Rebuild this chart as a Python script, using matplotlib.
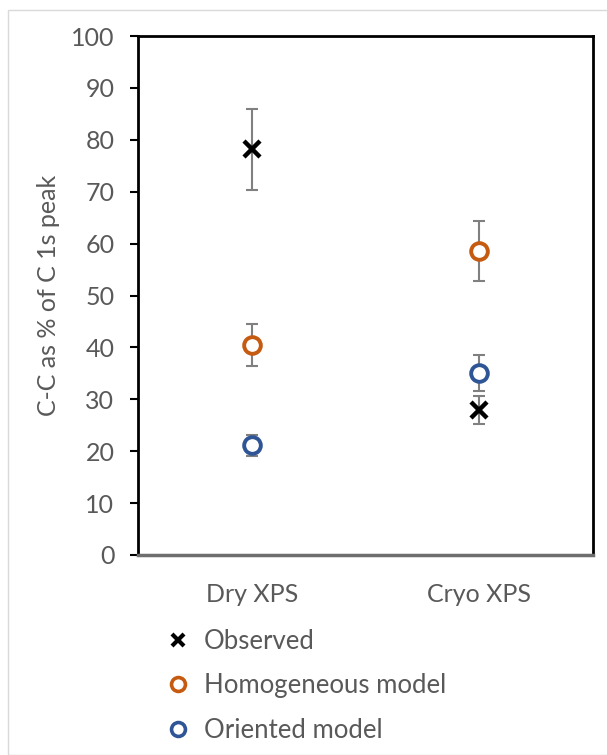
import matplotlib
matplotlib.use("Agg")
import matplotlib.pyplot as plt
from matplotlib.patches import Rectangle
from matplotlib.lines import Line2D

plt.rcParams['font.family'] = ['Lato', 'DejaVu Sans']

categories = ["Dry XPS", "Cryo XPS"]
observed = [78.2, 27.9]
observed_err = [7.8, 2.7]
homogeneous = [40.5, 58.6]
homogeneous_err = [4.0, 5.8]
oriented = [21.1, 35.1]
oriented_err = [2.1, 3.5]
yticks = [0, 10, 20, 30, 40, 50, 60, 70, 80, 90, 100]

txt = '#595959'
c_obs = '#000000'
c_hom = '#C55A11'
c_ori = '#2F5597'
c_err = '#808080'

W, H = 607, 755
fig = plt.figure(figsize=(W / 100, H / 100), dpi=100)
fig.patches.append(Rectangle((8 / W, 0), 1, 1 - 10 / H, transform=fig.transFigure,
                             fill=False, edgecolor='#D9D9D9', linewidth=1))

ax = fig.add_axes([138 / W, 1 - 555 / H, (593 - 138) / W, (555 - 36) / H])
x = [0.5, 1.5]

ebkw = dict(ecolor=c_err, elinewidth=1.5, capsize=4.5, capthick=1.5, linestyle='none', zorder=2)
ax.errorbar(x, observed, yerr=observed_err, **ebkw)
ax.errorbar(x, homogeneous, yerr=homogeneous_err, **ebkw)
ax.errorbar(x, oriented, yerr=oriented_err, **ebkw)

ax.plot(x, observed, linestyle='none', marker='x', markersize=11, markeredgewidth=3.2,
        color=c_obs, zorder=3)
ax.plot(x, homogeneous, linestyle='none', marker='o', markersize=12, markeredgewidth=2.8,
        markerfacecolor='white', markeredgecolor=c_hom, zorder=3)
ax.plot(x, oriented, linestyle='none', marker='o', markersize=12, markeredgewidth=2.8,
        markerfacecolor='white', markeredgecolor=c_ori, zorder=3)

ax.set_xlim(0, 2)
ax.set_ylim(0, 100)
ax.set_yticks(yticks)
ax.set_xticks(x)
ax.set_xticklabels(categories)
ax.tick_params(axis='y', length=6, width=1.5, color='black', labelsize=18, labelcolor=txt, pad=11)
ax.tick_params(axis='x', length=0, labelsize=18, labelcolor=txt, pad=20)
for s in ['left', 'top', 'right']:
    ax.spines[s].set_linewidth(2)
    ax.spines[s].set_color('black')
ax.spines['bottom'].set_linewidth(2.5)
ax.spines['bottom'].set_color('#6E6E6E')
ax.set_ylabel("C-C as % of C 1s peak", fontsize=18, color=txt, labelpad=8)

handles = [
    Line2D([], [], linestyle='none', marker='x', markersize=9, markeredgewidth=3, color=c_obs),
    Line2D([], [], linestyle='none', marker='o', markersize=10, markeredgewidth=2.6,
           markerfacecolor='white', markeredgecolor=c_hom),
    Line2D([], [], linestyle='none', marker='o', markersize=10, markeredgewidth=2.6,
           markerfacecolor='white', markeredgecolor=c_ori),
]
leg = fig.legend(handles, ["Observed", "Homogeneous model", "Oriented model"],
                 loc='upper left', bbox_to_anchor=(168 / W, 1 - 629 / H), frameon=False,
                 fontsize=18.5, handlelength=0.8, handletextpad=0.6, labelspacing=0.75,
                 borderpad=0, borderaxespad=0)
for t in leg.get_texts():
    t.set_color(txt)

fig.savefig("out.png", dpi=100)
